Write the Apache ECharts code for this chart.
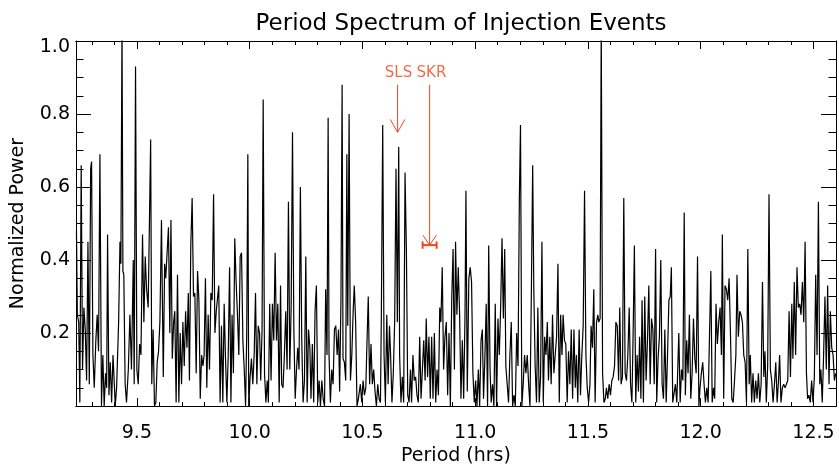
<!DOCTYPE html>
<html><head><meta charset="utf-8">
<script src="https://cdn.jsdelivr.net/npm/echarts@6/dist/echarts.min.js"></script>
<style>html,body{margin:0;padding:0;background:#fff}#c{width:839px;height:471px}</style>
</head><body><div id="c"></div>
<script>
var titleText = 'Period Spectrum of Injection Events';
var xName = 'Period (hrs)';
var yName = 'Normalized Power';
var xMajorTicks = [9.5, 10.0, 10.5, 11.0, 11.5, 12.0, 12.5];
var xMinorTicks = [9.3, 9.4, 9.6, 9.7, 9.8, 9.9, 10.1, 10.2, 10.3, 10.4, 10.6, 10.7, 10.8, 10.9, 11.1, 11.2, 11.3, 11.4, 11.6, 11.7, 11.8, 11.9, 12.1, 12.2, 12.3, 12.4, 12.6];
var yTicks = [0.2, 0.4, 0.6, 0.8, 1.0];

var periods = [
9.232,9.236,9.242,9.247,9.253,9.259,9.265,9.271,9.277,9.283,9.289,9.295,9.299,9.305,9.311,9.318,9.324,9.330,9.336,9.343,
9.349,9.355,9.361,9.366,9.370,9.376,9.382,9.388,9.394,9.400,9.404,9.410,9.419,9.425,9.429,9.434,9.438,9.442,9.448,9.454,
9.462,9.469,9.476,9.484,9.488,9.494,9.500,9.506,9.512,9.518,9.525,9.531,9.537,9.543,9.550,9.561,9.566,9.572,9.578,9.584,
9.590,9.596,9.602,9.609,9.617,9.623,9.628,9.634,9.640,9.646,
9.651,9.657,9.663,9.668,9.674,9.680,9.686,9.692,9.698,9.704,9.710,9.716,9.722,9.728,9.733,9.739,9.745,9.751,9.757,9.763,
9.769,9.775,9.781,9.787,9.793,9.798,9.804,9.810,9.816,9.822,9.828,9.834,9.840,9.846,9.852,9.857,9.863,9.869,9.875,9.881,
9.887,9.893,9.899,9.905,9.911,9.917,9.922,9.928,9.934,9.940,9.946,9.952,9.958,9.964,9.970,9.976,9.982,9.987,9.992,9.996,
10.002,10.008,10.014,10.020,10.026,10.032,10.038,10.044,10.049,10.055,
10.060,10.066,10.072,10.078,10.083,10.089,10.095,10.101,10.107,10.113,10.119,10.125,10.131,10.137,10.142,10.148,10.154,10.160,10.166,10.172,
10.178,10.184,10.190,10.196,10.202,10.207,10.213,10.219,10.225,10.231,10.237,10.243,10.249,10.255,10.261,10.267,10.272,10.278,10.284,10.290,
10.296,10.302,10.308,10.314,10.320,10.326,10.332,10.337,10.343,10.348,10.352,10.358,10.364,10.370,10.376,10.382,10.388,10.394,10.399,10.405,
10.410,10.414,10.420,10.426,10.431,10.435,10.441,10.447,10.453,10.459,10.464,10.470,10.476,10.482,
10.485,10.491,10.497,10.503,10.509,10.515,10.521,10.526,10.532,10.538,10.544,10.550,10.556,10.562,10.568,10.574,10.580,10.584,10.590,10.596,
10.602,10.608,10.614,10.620,10.625,10.631,10.637,10.643,10.649,10.655,10.661,10.665,10.671,10.677,10.683,10.689,10.695,10.701,10.707,10.713,
10.718,10.724,10.730,10.736,10.742,10.748,10.754,10.760,10.766,10.772,10.778,10.783,10.789,10.795,10.801,10.807,10.813,10.819,10.825,10.831,
10.837,10.843,10.848,10.854,10.860,10.866,10.872,10.878,10.884,10.890,10.896,10.902,10.908,
10.913,10.919,10.925,10.931,10.937,10.943,10.949,10.955,10.959,10.965,10.972,10.978,10.984,10.990,10.996,11.002,11.008,11.014,11.020,11.026,
11.032,11.037,11.043,11.049,11.055,11.060,11.066,11.071,11.077,11.083,11.089,11.095,11.101,11.107,11.113,11.119,11.125,11.131,11.136,11.142,
11.148,11.154,11.160,11.166,11.172,11.178,11.184,11.190,11.196,11.201,11.207,11.213,11.219,11.225,11.231,11.237,11.243,11.249,11.255,11.260,
11.266,11.272,11.278,11.284,11.290,11.296,11.302,11.308,11.314,
11.320,11.325,11.331,11.337,11.343,11.349,11.355,11.361,11.367,11.373,11.379,11.385,11.390,11.396,11.402,11.408,11.414,11.420,11.426,11.432,
11.438,11.444,11.449,11.455,11.461,11.467,11.473,11.479,11.485,11.491,11.497,11.503,11.509,11.514,11.520,11.526,11.532,11.538,11.544,11.548,
11.554,11.559,11.565,11.571,11.577,11.582,11.588,11.594,11.600,11.606,11.612,11.618,11.624,11.630,11.636,11.641,11.647,11.653,11.659,11.665,
11.671,11.677,11.683,11.689,11.695,11.701,11.706,11.712,11.718,11.724,
11.729,11.735,11.740,11.746,11.752,11.758,11.764,11.770,11.776,11.782,11.788,11.794,11.800,11.805,11.811,11.817,11.823,11.829,11.835,11.841,
11.847,11.853,11.859,11.865,11.870,11.876,11.882,11.888,11.894,11.903,11.909,11.915,11.921,11.927,11.932,11.938,11.944,11.950,11.956,11.962,
11.968,11.974,11.980,11.986,11.992,11.997,12.003,12.009,12.015,12.021,12.027,12.033,12.039,12.045,12.051,12.057,12.062,12.068,12.074,12.080,
12.086,12.092,12.096,12.102,12.108,12.114,12.120,12.126,12.132,12.138,12.144,12.150,12.156,
12.161,12.167,12.173,12.179,12.185,12.191,12.197,12.203,12.209,12.215,12.220,12.226,12.232,12.238,12.244,12.250,12.256,12.262,12.268,12.274,
12.280,12.285,12.291,12.297,12.303,12.309,12.315,12.321,12.327,12.333,12.339,12.345,12.350,12.356,12.362,12.368,12.374,12.380,12.386,12.392,
12.398,12.404,12.409,12.415,12.421,12.427,12.433,12.439,12.445,12.451,12.457,12.463,12.469,12.474,12.480,12.486,12.492,12.498,12.504,12.510,
12.516,12.522,12.528,12.533,12.539,12.545,12.551,12.557,12.563,12.569,12.575,12.581,12.587,12.593,12.599
];

var power = [
0.48,0.25,0.23,0.01,0.66,0.10,0.27,0.21,0.07,0.45,0.06,0.65,0.67,0.14,0.05,0.18,0.25,0.15,0.69,0.00,
0.14,0.00,0.09,0.05,0.47,0.03,0.12,0.01,0.14,0.06,0.00,0.05,0.23,0.45,0.39,1.05,0.37,0.36,0.06,0.01,
0.10,0.25,0.10,0.40,0.06,0.93,0.10,0.06,0.17,0.14,0.47,0.23,0.41,0.32,0.27,0.73,0.06,0.21,0.00,0.01,
0.12,0.15,0.23,0.51,0.08,0.39,0.35,0.42,0.49,0.20,
0.51,0.13,0.23,0.26,0.01,0.36,0.01,0.20,0.06,0.23,0.11,0.26,0.16,0.31,0.07,0.44,0.57,0.30,0.31,0.09,
0.37,0.29,0.02,0.14,0.11,0.14,0.35,0.05,0.25,0.10,0.31,0.29,0.58,0.20,0.26,0.26,0.33,0.01,0.22,0.01,
0.28,0.13,0.01,0.14,0.38,0.01,0.25,0.09,0.46,0.34,0.25,0.14,0.41,0.42,0.18,0.10,0.00,0.20,0.69,0.00,
0.08,0.13,0.06,0.14,0.31,0.06,0.22,0.20,0.07,0.21,
0.84,0.09,0.01,0.07,0.01,0.28,0.07,0.28,0.18,0.42,0.18,0.28,0.01,0.33,0.06,0.05,0.14,0.26,0.10,0.56,
0.10,0.27,0.75,0.21,0.02,0.09,0.16,0.10,0.60,0.18,0.01,0.07,0.41,0.01,0.21,0.16,0.02,0.17,0.01,0.26,
0.33,0.01,0.07,0.00,0.07,0.02,0.00,0.32,0.14,0.79,0.14,0.01,0.10,0.06,0.21,0.22,0.14,0.21,0.04,0.30,
0.88,0.13,0.12,0.07,0.69,0.22,0.80,0.07,0.14,0.26,0.33,0.23,0.00,0.02,
0.02,0.06,0.01,0.07,0.03,0.05,0.19,0.30,0.06,0.17,0.06,0.10,0.04,0.00,0.06,0.02,0.01,0.25,0.77,0.14,
0.01,0.25,0.06,0.22,0.14,0.01,0.09,0.23,0.65,0.23,0.71,0.14,0.01,0.08,0.01,0.64,0.43,0.03,0.01,0.10,
0.01,0.14,0.07,0.08,0.03,0.01,0.19,0.02,0.02,0.18,0.07,0.24,0.08,0.19,0.02,0.19,0.02,0.20,0.01,0.10,
0.03,0.27,0.23,0.38,0.10,0.19,0.23,0.03,0.20,0.00,0.29,0.43,0.10,
0.45,0.25,0.38,0.25,0.02,0.18,0.02,0.25,0.59,0.04,0.35,0.38,0.34,0.09,0.01,0.07,0.00,0.10,0.00,0.18,
0.21,0.02,0.13,0.28,0.00,0.44,0.10,0.01,0.06,0.00,0.28,0.00,0.24,0.14,0.27,0.46,0.24,0.43,0.11,0.06,
0.01,0.14,0.23,0.00,0.03,0.00,0.20,0.11,0.57,0.77,0.00,0.06,0.14,0.09,0.14,0.06,0.00,0.30,0.66,0.32,
0.11,0.01,0.27,0.01,0.08,0.45,0.01,0.19,0.14,
0.23,0.07,0.19,0.06,0.25,0.09,0.14,0.19,0.39,0.01,0.25,0.14,0.25,0.18,0.17,0.01,0.15,0.06,0.21,0.02,
0.21,0.05,0.14,0.01,0.21,0.03,0.14,0.22,0.59,0.14,0.05,0.01,0.06,0.22,0.16,0.32,0.01,0.23,0.25,0.23,
0.24,1.05,0.09,0.01,0.02,0.05,0.02,0.06,0.03,0.07,0.08,0.11,0.23,0.22,0.07,0.27,0.06,0.08,0.57,0.09,
0.07,0.14,0.27,0.06,0.01,0.22,0.44,0.01,0.14,0.04,
0.19,0.02,0.29,0.01,0.30,0.07,0.18,0.33,0.06,0.24,0.21,0.06,0.43,0.01,0.13,0.19,0.40,0.06,0.02,0.21,
0.01,0.14,0.29,0.30,0.38,0.01,0.01,0.06,0.01,0.20,0.01,0.10,0.07,0.53,0.03,0.18,0.09,0.25,0.02,0.09,
0.24,0.13,0.09,0.41,0.00,0.05,0.09,0.12,0.06,0.01,0.05,0.01,0.01,0.37,0.01,0.05,0.02,0.28,0.17,0.23,
0.27,0.14,0.47,0.02,0.33,0.32,0.29,0.35,0.20,0.02,0.01,0.07,0.14,
0.36,0.19,0.26,0.25,0.23,0.14,0.12,0.01,0.43,0.06,0.14,0.01,0.09,0.01,0.07,0.02,0.09,0.01,0.06,0.34,
0.08,0.15,0.01,0.11,0.58,0.10,0.07,0.01,0.06,0.12,0.01,0.07,0.14,0.01,0.05,0.06,0.05,0.06,0.07,0.26,
0.08,0.28,0.13,0.34,0.14,0.38,0.27,0.28,0.25,0.34,0.23,0.45,0.09,0.02,0.03,0.01,0.07,0.01,0.08,0.36,
0.14,0.56,0.06,0.10,0.01,0.14,0.30,0.10,0.33,0.06,0.26,0.16,0.14,0.07,0.09
];

// Annotations (values in data units)
var slsPeriod = 10.656, slsTop = 0.88, slsTip = 0.75;
var skrPeriod = 10.798, skrErr = 0.031, skrPower = 0.441, skrTop = 0.88;
var annoLabelPower = 0.912;
var annoColor = '#f0461f';

var FONT = 'DejaVu Sans';
var spectrum = periods.map(function (p, i) { return [p, power[i]]; });

var chart = echarts.init(document.getElementById('c'), null, { renderer: 'canvas' });

function xAx(pos, ticks, len, showLabel, name) {
  return {
    type: 'value', position: pos, min: 9.23, max: 12.6,
    axisLine: { show: true, lineStyle: { color: '#000', width: 1 } },
    axisTick: { show: true, inside: true, length: len, customValues: ticks, lineStyle: { color: '#000', width: 1 } },
    axisLabel: { show: showLabel, customValues: ticks, margin: 17, color: '#000', fontFamily: FONT, fontSize: 19,
      formatter: function (v) { return v.toFixed(1); } },
    splitLine: { show: false },
    name: name || '', nameLocation: 'middle', nameGap: 34,
    nameTextStyle: { color: '#000', fontFamily: FONT, fontSize: 19 }
  };
}
function yAx(pos, showLabel, name) {
  return {
    type: 'value', position: pos, min: 0, max: 1, interval: 0.2,
    axisLine: { show: true, lineStyle: { color: '#000', width: 1 } },
    axisTick: { show: true, inside: true, length: 15, lineStyle: { color: '#000', width: 1 } },
    minorTick: { show: true, splitNumber: 4, length: 7.5, lineStyle: { color: '#000', width: 1 } },
    axisLabel: { show: showLabel, showMinLabel: false, margin: 6, color: '#000', fontFamily: FONT, fontSize: 19,
      formatter: function (v) { return v === 0 ? '' : (v === 1 ? '{t|1.0}' : v.toFixed(1)); },
      rich: { t: { fontFamily: FONT, fontSize: 19, color: '#000', padding: [12, 0, 0, 0] } } },
    splitLine: { show: false }, minorSplitLine: { show: false },
    name: name || '', nameLocation: 'middle', nameGap: 48,
    nameTextStyle: { color: '#000', fontFamily: FONT, fontSize: 19 }
  };
}

function seg(data, width) {
  return { type: 'line', data: data, xAxisIndex: 0, yAxisIndex: 0, showSymbol: false, symbol: 'none',
    lineStyle: { color: annoColor, width: width || 1 }, silent: true, z: 5, clip: false };
}

chart.setOption({
  animation: false,
  backgroundColor: '#fff',
  title: { text: titleText, left: 456, textAlign: 'center', top: 8,
    textStyle: { color: '#000', fontFamily: FONT, fontSize: 23, fontWeight: 'normal' } },
  grid: { left: 76, right: 3, top: 41, bottom: 53, containLabel: false },
  xAxis: [
    xAx('bottom', xMajorTicks, 8, true, xName),
    xAx('bottom', xMinorTicks, 4, false),
    xAx('top', xMajorTicks, 8, false),
    xAx('top', xMinorTicks, 4, false)
  ],
  yAxis: [ yAx('left', true, yName), yAx('right', false) ],
  series: [
    { name: 'power', type: 'line', data: spectrum, xAxisIndex: 0, yAxisIndex: 0, showSymbol: false, symbol: 'none',
      lineStyle: { color: '#000', width: 1.2 }, clip: true, z: 3 },
    seg([[slsPeriod, slsTop], [slsPeriod, slsTip]]),
    seg([[slsPeriod - 0.032, slsTip + 0.035], [slsPeriod, slsTip], [slsPeriod + 0.032, slsTip + 0.035]]),
    seg([[skrPeriod, skrTop], [skrPeriod, skrPower]]),
    seg([[skrPeriod - 0.03, skrPower + 0.027], [skrPeriod, skrPower], [skrPeriod + 0.03, skrPower + 0.027]]),
    seg([[skrPeriod - skrErr, skrPower], [skrPeriod + skrErr, skrPower]], 2),
    seg([[skrPeriod - skrErr, skrPower - 0.01], [skrPeriod - skrErr, skrPower + 0.01]], 2),
    seg([[skrPeriod + skrErr, skrPower - 0.01], [skrPeriod + skrErr, skrPower + 0.01]], 2),
    { type: 'scatter', xAxisIndex: 0, yAxisIndex: 0, symbolSize: 1, itemStyle: { color: 'rgba(0,0,0,0)' }, silent: true,
      data: [ { name: 'SLS', value: [slsPeriod + 0.004, annoLabelPower] }, { name: 'SKR', value: [skrPeriod + 0.008, annoLabelPower] } ],
      label: { show: true, position: 'inside', formatter: '{b}', color: annoColor, fontFamily: FONT, fontSize: 15 } }
  ]
});
</script></body></html>
